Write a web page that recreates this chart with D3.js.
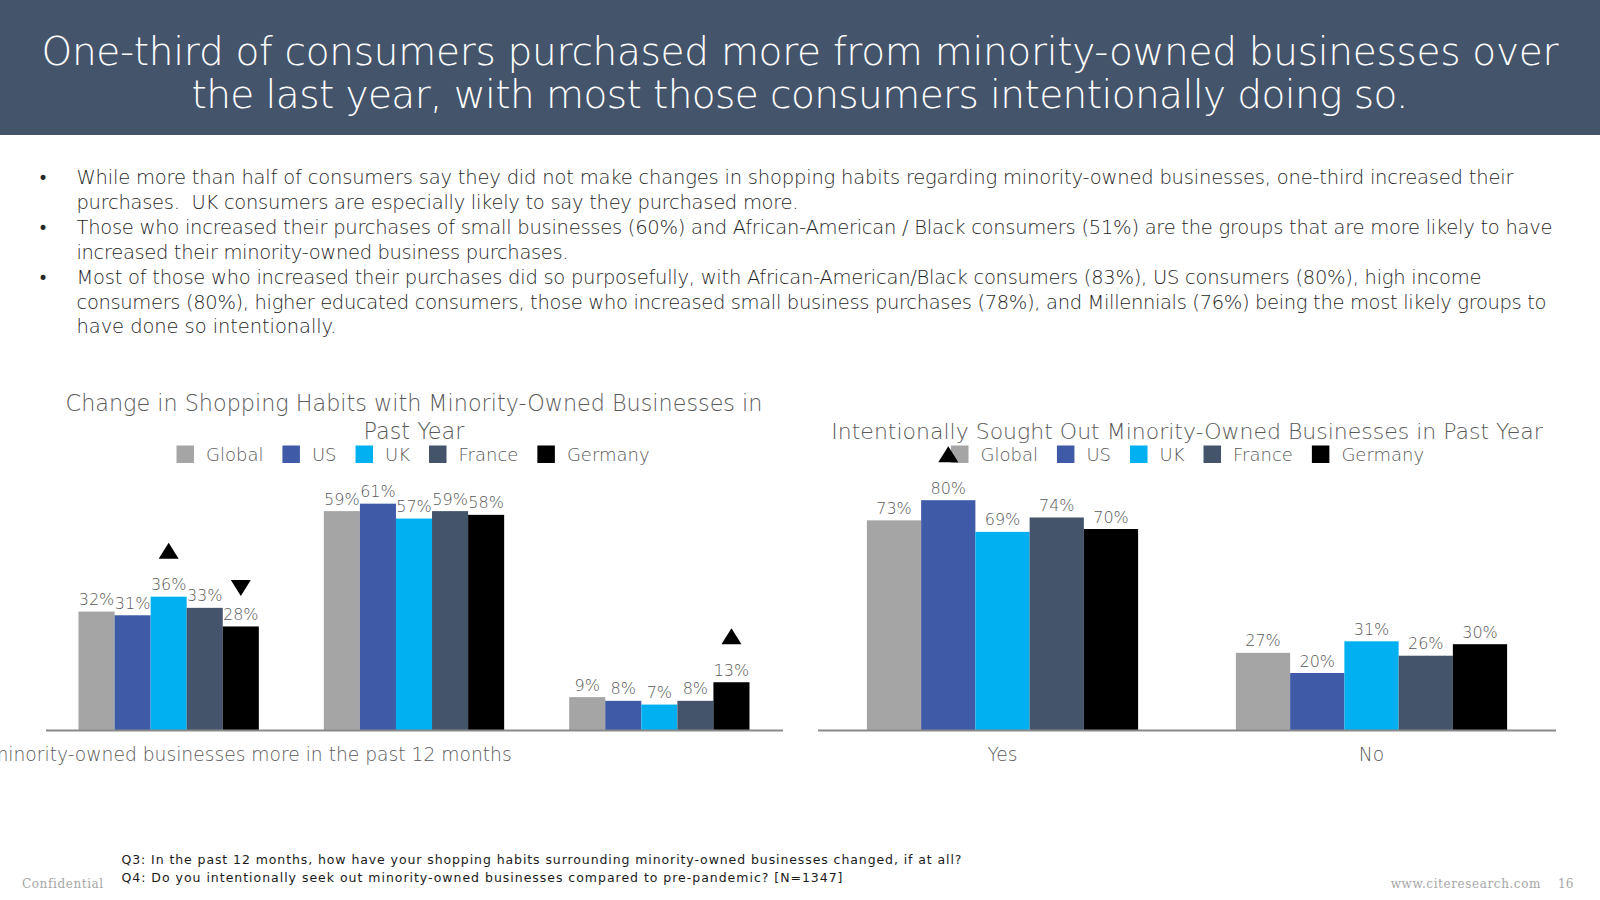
<!DOCTYPE html>
<html>
<head>
<meta charset="utf-8">
<script src="https://cdn.jsdelivr.net/npm/d3@7"></script>
<style>
    body { margin: 0; background: #fff; }
    svg { display: block; font-family: "Century Gothic", "DejaVu Sans", sans-serif; font-weight: 200; }
    .pre { white-space: pre; }
</style>
</head>
<body>
<svg id="slide"></svg>
<script>
// ---- data ----
const series = ["Global", "US", "UK", "France", "Germany"];
const seriesColors = ["#A5A5A5", "#3F5AA7", "#00B0F0", "#44546A", "#000000"];

const habitCategories = [
    "I purchased from minority-owned businesses more in the past 12 months",
    "My shopping habits did not change",
    "I purchased from minority-owned businesses less in the past 12 months"
];
const habitGlobal = [32, 59, 9];
const habitUS = [31, 61, 8];
const habitUK = [36, 57, 7];
const habitFrance = [33, 59, 8];
const habitGermany = [28, 58, 13];
// significance arrows: [category index, series, direction]
const habitMarkers = [[0, "UK", "up"], [0, "Germany", "down"], [2, "Germany", "up"]];

const intentCategories = ["Yes", "No"];
const intentGlobal = [73, 27];
const intentUS = [80, 20];
const intentUK = [69, 31];
const intentFrance = [74, 26];
const intentGermany = [70, 30];
const intentMarkers = [[0, "US", "up"]];

const slideTitle = [
    "One-third of consumers purchased more from minority-owned businesses over",
    "the last year, with most those consumers intentionally doing so."
];
const bullets = [
    ["While more than half of consumers say they did not make changes in shopping habits regarding minority-owned businesses, one-third increased their",
     "purchases.  UK consumers are especially likely to say they purchased more."],
    ["Those who increased their purchases of small businesses (60%) and African-American / Black consumers (51%) are the groups that are more likely to have",
     "increased their minority-owned business purchases."],
    ["Most of those who increased their purchases did so purposefully, with African-American/Black consumers (83%), US consumers (80%), high income",
     "consumers (80%), higher educated consumers, those who increased small business purchases (78%), and Millennials (76%) being the most likely groups to",
     "have done so intentionally."]
];
const footnotes = [
    "Q3: In the past 12 months, how have your shopping habits surrounding minority-owned businesses changed, if at all?",
    "Q4: Do you intentionally seek out minority-owned businesses compared to pre-pandemic? [N=1347]"
];

// ---- layout ----
const width = 1600, height = 900;
const textGray = "#595959";
// line widths of the original text block, so the wrap looks the same
const titleWidths = [1517, 1217];
const bulletWidths = [1437, 722, 1476, 492, 1405, 1470, 260];
const footWidths = [840, 721];

const svg = d3.select("#slide").attr("width", width).attr("height", height);

function fit(sel, w) {
    sel.attr("textLength", w).attr("lengthAdjust", "spacing");
}

svg.append("rect").attr("width", width).attr("height", 135).attr("fill", "#44546A");
svg.append("g").selectAll("text")
    .data(slideTitle)
    .join("text")
    .attr("x", width / 2)
    .attr("y", (d, i) => 65 + i * 42.5)
    .attr("text-anchor", "middle")
    .attr("fill", "#fff")
    .style("font-size", "39px")
    .each(function (d, i) { fit(d3.select(this), titleWidths[i]); })
    .text(d => d);

// bullets
const bulletG = svg.append("g");
let lineNo = 0;
bullets.forEach(lines => {
    bulletG.append("text")
        .attr("x", 38).attr("y", 184 + lineNo * 24.9)
        .attr("fill", "#262626").style("font-size", "17px").style("font-weight", 400)
        .text("\u2022");
    lines.forEach(t => {
        bulletG.append("text")
            .attr("class", "pre")
            .attr("x", 76.5).attr("y", 184 + lineNo * 24.9)
            .attr("fill", "#1f1f1f").style("font-size", "19.5px")
            .call(fit, bulletWidths[lineNo])
            .text(t);
        lineNo++;
    });
});

// ---- charts ----
function drawChart(opt) {
    const g = svg.append("g");
    const table = opt.values.map((vals, si) => vals.map((v, ci) => ({series: series[si], ci, v, color: seriesColors[si]}))).flat();

    const x0 = d3.scaleBand().domain(d3.range(opt.categories.length))
        .range(opt.xRange).paddingInner(0.265).paddingOuter(0.1325);
    const x1 = d3.scaleBand().domain(series).range([0, x0.bandwidth()]);
    const y = d3.scaleLinear().domain([0, 100]).range(opt.yRange);

    // title
    g.append("g").selectAll("text")
        .data(opt.title)
        .join("text")
        .attr("x", (opt.xRange[0] + opt.xRange[1]) / 2)
        .attr("y", (d, i) => opt.titleY + i * 28)
        .attr("text-anchor", "middle")
        .attr("fill", textGray)
        .style("font-size", opt.titleSize)
        .text(d => d);

    // legend
    const legend = g.append("g").attr("transform", `translate(${opt.legendX}, 454)`);
    let lx = 0;
    series.forEach((s, i) => {
        legend.append("rect").attr("x", lx).attr("y", -8.5).attr("width", 17.5).attr("height", 17.5)
            .attr("fill", seriesColors[i]);
        const t = legend.append("text").attr("x", lx + 29.5).attr("y", 6.5)
            .attr("fill", textGray).style("font-size", "18px").text(s);
        lx += 29.5 + t.node().getComputedTextLength() + 19;
    });

    // bars
    g.append("g").selectAll("rect")
        .data(table)
        .join("rect")
        .attr("x", d => x0(d.ci) + x1(d.series))
        .attr("y", d => y(d.v))
        .attr("width", x1.bandwidth())
        .attr("height", d => y(0) - y(d.v))
        .attr("fill", d => d.color);

    g.append("g").selectAll("text")
        .data(table)
        .join("text")
        .attr("x", d => x0(d.ci) + x1(d.series) + x1.bandwidth() / 2)
        .attr("y", d => y(d.v) - 6.5)
        .attr("text-anchor", "middle")
        .attr("fill", textGray)
        .style("font-size", "16px")
        .text(d => d.v + "%");

    // significance triangles
    g.append("g").selectAll("path")
        .data(opt.markers)
        .join("path")
        .attr("transform", ([ci, s, dir]) => {
            const v = opt.values[series.indexOf(s)][ci];
            return `translate(${x0(ci) + x1(s) + x1.bandwidth() / 2}, ${y(v) - (dir === "up" ? 46 : 38.5)})`;
        })
        .attr("d", ([, , dir]) => dir === "up" ? "M-10,8L10,8L0,-8Z" : "M-10,-8L10,-8L0,8Z")
        .attr("fill", "#000");

    // axis
    const axis = g.append("g")
        .attr("transform", `translate(0, ${opt.yRange[0]})`)
        .call(d3.axisBottom(x0).tickSize(0).tickPadding(17)
            .tickFormat(i => opt.showTick(i) ? opt.categories[i] : ""))
        .attr("font-family", null)
        .attr("font-size", null);
    axis.select(".domain").attr("stroke", "#898989").attr("stroke-width", 2)
        .attr("d", `M${opt.axisRange[0]},0H${opt.axisRange[1]}`);
    axis.selectAll("text").attr("fill", textGray).style("font-size", "18.7px");
}

drawChart({
    categories: habitCategories,
    values: [habitGlobal, habitUS, habitUK, habitFrance, habitGermany],
    markers: habitMarkers,
    title: ["Change in Shopping Habits with Minority-Owned Businesses in", "Past Year"],
    titleY: 411,
    titleSize: "22.3px",
    legendX: 176.5,
    xRange: [46, 782],
    axisRange: [46, 783],
    yRange: [730.6, 358.6],
    showTick: i => i === 0
});

drawChart({
    categories: intentCategories,
    values: [intentGlobal, intentUS, intentUK, intentFrance, intentGermany],
    markers: intentMarkers,
    title: ["Intentionally Sought Out Minority-Owned Businesses in Past Year"],
    titleY: 439,
    titleSize: "22px",
    legendX: 951,
    xRange: [818, 1556],
    axisRange: [818, 1556],
    yRange: [730.6, 442.6],
    showTick: () => true
});

// ---- footer ----
svg.append("g").selectAll("text")
    .data(footnotes)
    .join("text")
    .attr("x", 121.5)
    .attr("y", (d, i) => 864 + i * 18)
    .attr("fill", "#1a1a1a")
    .style("font-size", "12.5px")
    .style("font-weight", 400)
    .each(function (d, i) { fit(d3.select(this), footWidths[i]); })
    .text(d => d);

svg.append("text").attr("x", 22).attr("y", 888)
    .attr("fill", "#a6a6a6").style("font-size", "12px").style("font-family", "DejaVu Serif")
    .style("letter-spacing", "0.6px").text("Confidential");
svg.append("text").attr("x", 1541).attr("y", 888).attr("text-anchor", "end")
    .attr("fill", "#a6a6a6").style("font-size", "12px").style("font-family", "DejaVu Serif")
    .style("letter-spacing", "0.6px").text("www.citeresearch.com");
svg.append("text").attr("x", 1558).attr("y", 888)
    .attr("fill", "#a6a6a6").style("font-size", "12px").style("font-family", "DejaVu Serif")
    .text("16");
</script>
</body>
</html>
